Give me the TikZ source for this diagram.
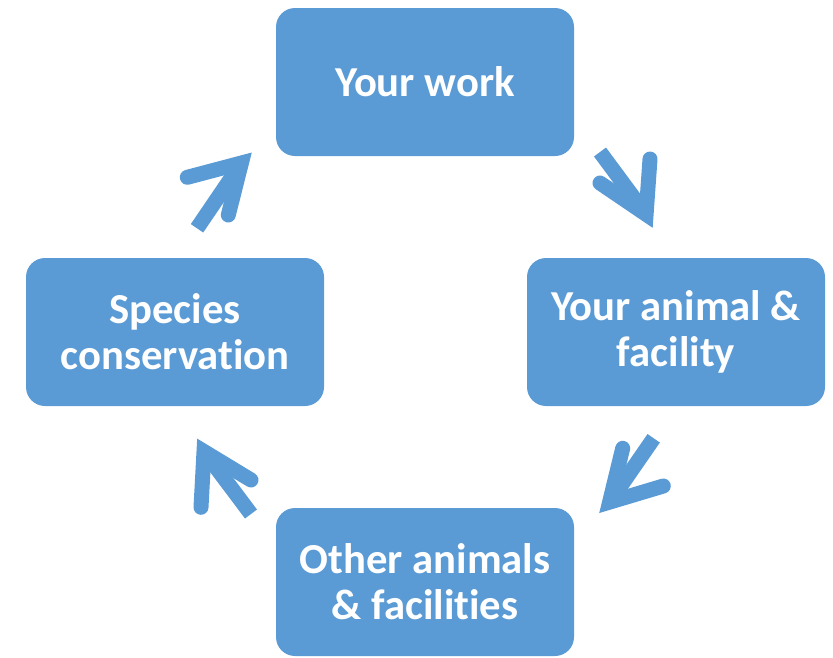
\documentclass[tikz,border=0pt]{standalone}
\usepackage{fontspec}
\setmainfont[Ligatures=NoCommon]{Carlito}
\definecolor{boxblue}{RGB}{91,155,213}
\tikzset{
  cyclebox/.style={fill=boxblue, draw=none, rounded corners=19pt, minimum width=298pt, minimum height=148pt,
    text=white, font=\fontsize{42.7}{46}\selectfont\bfseries, align=center, inner sep=0pt},
  shaft/.style={draw=boxblue, line width=15pt, line cap=butt},
  head/.style={draw=boxblue, line width=15pt, line cap=round, line join=miter, miter limit=10},
}
\begin{document}
\begin{tikzpicture}[x=1pt,y=-1pt]
\useasboundingbox (0,0) rectangle (833,657);
\node[cyclebox] (work) at (425,82) {Your work};
\node[cyclebox] (animal) at (676,332) {Your animal \&\\facility};
\node[cyclebox] (others) at (425,582) {Other animals\\\& facilities};
\node[cyclebox] (species) at (175,332) {Species\\conservation};
% arrow 1
\coordinate (a1s) at (600,152); \coordinate (a1t) at (646.1,214.3);
\coordinate (a1b) at (650,159); \coordinate (a1c) at (600,183);
\draw[shaft] (a1s) -- (a1t);
\draw[head] (a1b) -- (a1t) -- (a1c);
% arrow 2
\coordinate (a2s) at (653.7,438.3); \coordinate (a2t) at (609.6,502.1);
\coordinate (a2b) at (622.7,448.3); \coordinate (a2c) at (663.3,486);
\draw[shaft] (a2s) -- (a2t);
\draw[head] (a2b) -- (a2t) -- (a2c);
% arrow 3
\coordinate (a3s) at (197,228.3); \coordinate (a3t) at (241.4,163);
\coordinate (a3b) at (187.3,177.3); \coordinate (a3c) at (228.3,215);
\draw[shaft] (a3s) -- (a3t);
\draw[head] (a3b) -- (a3t) -- (a3c);
% arrow 4
\coordinate (a4s) at (251,514); \coordinate (a4t) at (204,451.5);
\coordinate (a4b) at (201,507.3); \coordinate (a4c) at (251,480);
\draw[shaft] (a4s) -- (a4t);
\draw[head] (a4b) -- (a4t) -- (a4c);
\end{tikzpicture}
\end{document}
